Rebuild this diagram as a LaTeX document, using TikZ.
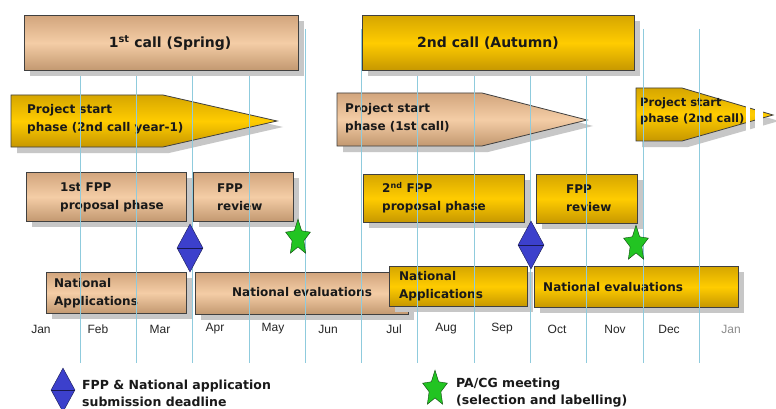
\documentclass[tikz,border=0pt]{standalone}
\usepackage{fontspec}
\setmainfont{DejaVu Sans}
\newfontfamily\monthfont{Liberation Sans}
\usetikzlibrary{shapes.geometric, shadows}
\definecolor{tanTop}{HTML}{D2A57D}
\definecolor{tanMid}{HTML}{F4CDA6}
\definecolor{tanBot}{HTML}{C29870}
\definecolor{goldTop}{HTML}{D6A600}
\definecolor{goldMid}{HTML}{FFCC00}
\definecolor{goldBot}{HTML}{C69700}
\definecolor{gridBlue}{HTML}{8FCBDD}
\definecolor{markBlue}{HTML}{3C40CC}
\definecolor{markGreen}{HTML}{22C422}

\begin{document}
\begin{tikzpicture}[x = 1pt, y = -1pt]
\tikzstyle{TanStyle}=[draw = black!75, line width = 0.8pt,
                      top color = tanTop, bottom color = tanBot, middle color = tanMid,
                      drop shadow = {shadow xshift = 6pt, shadow yshift = -6pt, fill = black!22, opacity = 1}]
\tikzstyle{GoldStyle}=[draw = black!75, line width = 0.8pt,
                       top color = goldTop, bottom color = goldBot, middle color = goldMid,
                       drop shadow = {shadow xshift = 6pt, shadow yshift = -6pt, fill = black!22, opacity = 1}]
\tikzstyle{BoxText}=[inner sep = 0pt, align = left, text = black!90,
                     font = \bfseries\fontsize{12}{18}\selectfont]
\tikzstyle{CallText}=[inner sep = 0pt, text = black!90,
                      font = \bfseries\fontsize{14}{16}\selectfont]
\tikzstyle{LegendText}=[inner sep = 0pt, align = left, text = black!90,
                        font = \bfseries\fontsize{12.5}{17}\selectfont]
\tikzstyle{MonthText}=[inner sep = 0pt, text = black!85,
                       font = \monthfont\fontsize{12}{14}\selectfont]
\tikzstyle{GridLine}=[draw = gridBlue, line width = 0.8pt]
\tikzstyle{Deadline}=[shape = diamond, inner sep = 0pt,
                      minimum width = 26pt, minimum height = 48pt,
                      draw = markBlue!40!black, fill = markBlue]
\tikzstyle{Meeting}=[shape = star, star points = 5, star point ratio = 2.1,
                     minimum size = 26pt, inner sep = 0pt, yscale = 1.45,
                     draw = markGreen!35!black, fill = markGreen]
\useasboundingbox[fill = white] (0,0) rectangle (776,409);

\path[GoldStyle] (11,95) -- (163,95) -- (277,121) -- (163,147) -- (11,147) -- cycle;
\path[TanStyle] (337,93) -- (482,93) -- (587,120) -- (482,146) -- (337,146) -- cycle;
\path[GoldStyle] (636,88) -- (682,88) -- (773,115) -- (682,141) -- (636,141) -- cycle;
\fill[white] (746,80) rectangle (750,156);
\fill[white] (755,80) rectangle (763,156);
\node[BoxText, anchor = west] (p1) at (27,119) {Project start\\phase (2nd call year-1)};
\node[BoxText, anchor = west] (p2) at (345,118) {Project start\\phase (1st call)};
\node[BoxText, anchor = west, font = \bfseries\fontsize{11.5}{16}\selectfont] (p3) at (640,111) {Project start\\phase (2nd call)};

\node[TanStyle, anchor = north west, minimum width = 160pt, minimum height = 49pt] (f1) at (26,172) {};
\node[TanStyle, anchor = north west, minimum width = 100pt, minimum height = 49pt] (r1) at (193,172) {};
\node[GoldStyle, anchor = north west, minimum width = 161pt, minimum height = 48pt] (f2) at (363,174) {};
\node[GoldStyle, anchor = north west, minimum width = 101pt, minimum height = 49pt] (r2) at (536,174) {};
\node[BoxText, anchor = west] (f1t) at (60,197) {1st FPP\\proposal phase};
\node[BoxText, anchor = west] (r1t) at (217,197) {FPP\\review};
\node[BoxText, anchor = west] (f2t) at (382,198) {2\textsuperscript{nd} FPP\\proposal phase};
\node[BoxText, anchor = west] (r2t) at (566,198) {FPP\\review};

\node[TanStyle, anchor = north west, minimum width = 140pt, minimum height = 41pt] (n1) at (46,272) {};
\node[TanStyle, anchor = north west, minimum width = 213pt, minimum height = 42pt] (e1) at (195,272) {};
\node[GoldStyle, anchor = north west, minimum width = 138pt, minimum height = 40pt] (n2) at (389,266) {};
\node[GoldStyle, anchor = north west, minimum width = 204pt, minimum height = 41pt] (e2) at (534,266) {};
\node[BoxText, anchor = west] (n1t) at (54,293.5) {National\\Applications};
\node[BoxText] (e1t) at (302,292) {National evaluations};
\node[BoxText, anchor = west] (n2t) at (399,286) {National\\Applications};
\node[BoxText, anchor = west] (e2t) at (543,287) {National evaluations};

\draw[GridLine] (80,29) -- (80,363)   (136.3,29) -- (136.3,363)
                (192.6,29) -- (192.6,363) (248.9,29) -- (248.9,363)
                (305.2,29) -- (305.2,363) (361.5,29) -- (361.5,363)
                (417.8,29) -- (417.8,363) (474.1,29) -- (474.1,363)
                (530.4,29) -- (530.4,363) (586.7,29) -- (586.7,363)
                (643,29) -- (643,363)     (699.3,29) -- (699.3,363);

\node[Deadline] (d1) at (190,248) {};
\draw[markBlue!40!black] (d1.west) -- (d1.east);
\node[Deadline] (d2) at (531,245) {};
\draw[markBlue!40!black] (d2.west) -- (d2.east);
\begin{scope}[shift = {(298,238)}]
\node[Meeting] (s1) at (0,0) {};
\end{scope}
\begin{scope}[shift = {(636,244)}]
\node[Meeting] (s2) at (0,0) {};
\end{scope}

\node[TanStyle, anchor = north west, minimum width = 274pt, minimum height = 55pt] (c1) at (24,15) {};
\node[GoldStyle, anchor = north west, minimum width = 272pt, minimum height = 55pt] (c2) at (362,15) {};
\node[CallText] (c1t) at (170,43) {1\textsuperscript{st} call (Spring)};
\node[CallText] (c2t) at (488,43) {2nd call (Autumn)};

\node[MonthText] (m1) at (41,329) {Jan};
\node[MonthText] (m2) at (98,329) {Feb};
\node[MonthText] (m3) at (160,329) {Mar};
\node[MonthText] (m4) at (215,329) {Apr};
\node[MonthText] (m5) at (273,329) {May};
\node[MonthText] (m6) at (328,329) {Jun};
\node[MonthText] (m7) at (394,329) {Jul};
\node[MonthText] (m8) at (446,329) {Aug};
\node[MonthText] (m9) at (502,329) {Sep};
\node[MonthText] (m10) at (557,329) {Oct};
\node[MonthText] (m11) at (615,329) {Nov};
\node[MonthText] (m12) at (669,329) {Dec};
\node[MonthText, text = black!45] (m13) at (731,329) {Jan};

\node[Deadline, minimum width = 24pt, minimum height = 44pt] (ld) at (63,390) {};
\draw[markBlue!40!black] (ld.west) -- (ld.east);
\node[LegendText, anchor = west] (ldt) at (82,393.5) {FPP \& National application\\submission deadline};
\begin{scope}[shift = {(435,389)}]
\node[Meeting] (ls) at (0,0) {};
\end{scope}
\node[LegendText, anchor = west] (lst) at (456,392.5) {PA/CG meeting\\(selection and labelling)};
\end{tikzpicture}
\end{document}
